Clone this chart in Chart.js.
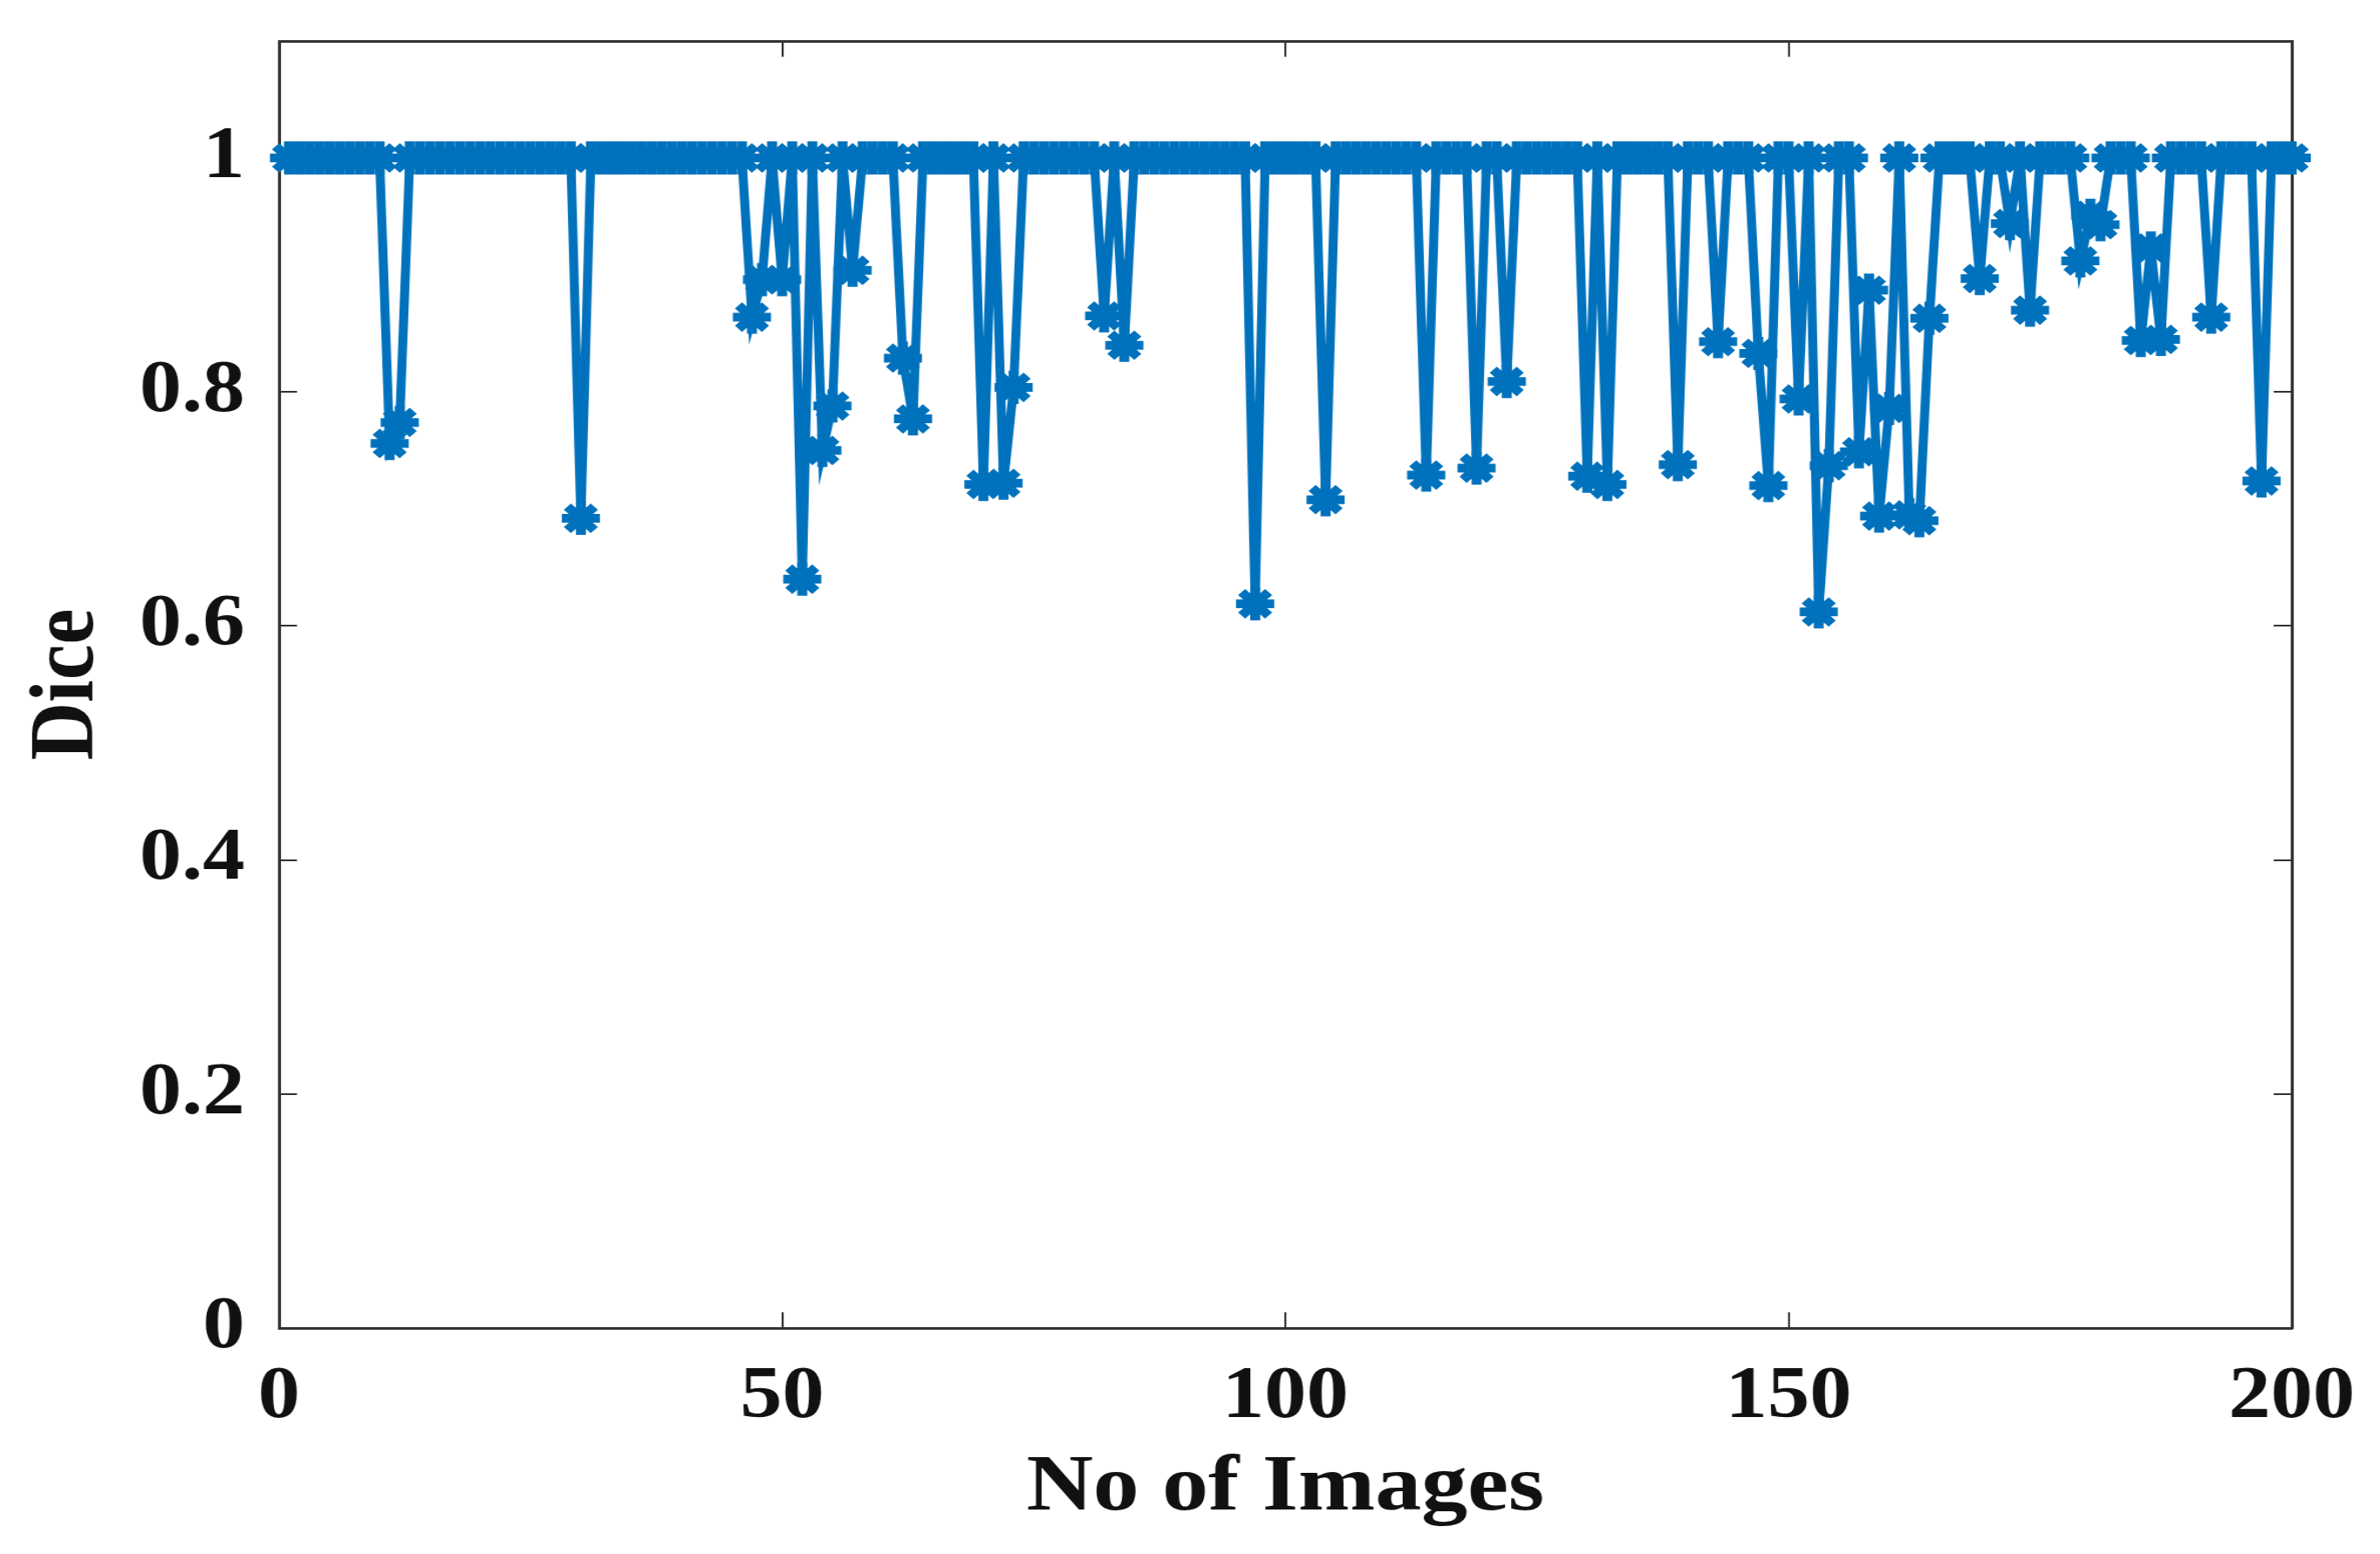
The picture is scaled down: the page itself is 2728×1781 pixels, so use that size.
<!DOCTYPE html>
<html>
<head>
<meta charset="utf-8">
<script src="https://cdn.jsdelivr.net/npm/chart.js@4.4.1/dist/chart.umd.min.js"></script>
<style>
html,body{margin:0;padding:0;background:#ffffff;overflow:hidden}
</style>
</head>
<body>
<canvas id="c" width="2372" height="1781" style="display:block;width:2728px;height:1781px"></canvas>
<script>
// ---- data ----
const imageNo = [
  1,2,3,4,5,6,7,8,9,10,11,12,13,14,15,16,17,18,19,20,
  21,22,23,24,25,26,27,28,29,30,31,32,33,34,35,36,37,38,39,40,
  41,42,43,44,45,46,47,48,49,50,51,52,53,54,55,56,57,58,59,60,
  61,62,63,64,65,66,67,68,69,70,71,72,73,74,75,76,77,78,79,80,
  81,82,83,84,85,86,87,88,89,90,91,92,93,94,95,96,97,98,99,100,
  101,102,103,104,105,106,107,108,109,110,111,112,113,114,115,116,117,118,119,120,
  121,122,123,124,125,126,127,128,129,130,131,132,133,134,135,136,137,138,139,140,
  141,142,143,144,145,146,147,148,149,150,151,152,153,154,155,156,157,158,159,160,
  161,162,163,164,165,166,167,168,169,170,171,172,173,174,175,176,177,178,179,180,
  181,182,183,184,185,186,187,188,189,190,191,192,193,194,195,196,197,198,199,200
];
const diceScore = [
  1,1,1,1,1,1,1,1,1,1, 0.756,0.774,1,1,1,1,1,1,1,1,
  1,1,1,1,1,1,1,1,1,0.692, 1,1,1,1,1,1,1,1,1,1,
  1,1,1,1,1,1,0.864,0.896,1,0.896, 1,0.640,1,0.750,0.788,1,0.904,1,1,1,
  1,0.829,0.777,1,1,1,1,1,1,0.721, 1,0.722,0.804,1,1,1,1,1,1,1,
  1,0.865,1,0.840,1,1,1,1,1,1, 1,1,1,1,1,1,0.619,1,1,1,
  1,1,1,0.708,1,1,1,1,1,1, 1,1,1,0.729,1,1,1,1,0.735,1,
  1,0.809,1,1,1,1,1,1,1,0.728, 1,0.721,1,1,1,1,1,1,0.738,1,
  1,1,0.843,1,1,1,0.833,0.720,1,1, 0.794,1,0.612,0.737,1,1,0.749,0.887,0.694,0.786,
  1,0.695,0.690,0.863,1,1,1,1,0.897,1, 1,0.944,1,0.870,1,1,1,1,0.912,0.951,
  0.943,1,1,1,0.844,0.923,0.845,1,1,1, 1,0.864,1,1,1,1,0.724,1,1,1
];
const xTickValues = [0, 50, 100, 150, 200];
const xTickLabels = ['0', '50', '100', '150', '200'];
const yTickValues = [0, 0.2, 0.4, 0.6, 0.8, 1];
const yTickLabels = ['0', '0.2', '0.4', '0.6', '0.8', '1'];
const xAxisTitle = 'No of Images';
const yAxisTitle = 'Dice';

// ---- styling ----
const LINE_BLUE = '#0072BD';
const AXIS_COLOR = '#333333';
const TEXT_COLOR = '#111111';
const FONT_FAMILY = '"Liberation Serif", "Times New Roman", serif';
const CANVAS_H = 1781;

const gridOpts = {
  display: true,
  drawOnChartArea: false,
  drawTicks: true,
  tickLength: -18,
  color: AXIS_COLOR,
  lineWidth: 2
};
const borderOpts = { display: true, color: AXIS_COLOR, width: 3 };

function setTicks(values) {
  return function (scale) { scale.ticks = values.map(v => ({ value: v })); };
}
function fixSize(prop, size) {
  return function (scale) {
    scale[prop] = size;
    scale.paddingLeft = 0; scale.paddingRight = 0;
    scale.paddingTop = 0; scale.paddingBottom = 0;
  };
}

new Chart(document.getElementById('c'), {
  type: 'line',
  data: {
    labels: imageNo,
    datasets: [{
      data: diceScore,
      borderColor: LINE_BLUE,
      backgroundColor: LINE_BLUE,
      borderWidth: 9,
      tension: 0,
      pointStyle: 'star',
      pointRadius: 19,
      pointBorderWidth: 10,
      pointBorderColor: LINE_BLUE,
      pointBackgroundColor: LINE_BLUE,
      clip: false
    }]
  },
  options: {
    responsive: false,
    animation: false,
    devicePixelRatio: 1,
    events: [],
    layout: { padding: 0, autoPadding: false },
    plugins: { legend: { display: false }, tooltip: { enabled: false }, title: { display: false } },
    scales: {
      x: {
        type: 'linear', position: 'bottom', min: 0, max: 200,
        afterBuildTicks: setTicks(xTickValues),
        afterFit: fixSize('height', CANVAS_H - 1522),
        grid: gridOpts, border: borderOpts,
        ticks: {
          autoSkip: false, maxRotation: 0, minRotation: 0, padding: 48,
          color: TEXT_COLOR, font: { family: FONT_FAMILY, size: 84, weight: 'bold' },
          callback: (v, i) => xTickLabels[i]
        },
        title: {
          display: true, text: xAxisTitle, color: TEXT_COLOR,
          font: { family: FONT_FAMILY, size: 92, weight: 'bold' },
          padding: { top: 0, bottom: 20 }
        }
      },
      x2: {
        type: 'linear', axis: 'x', position: 'top', min: 0, max: 200,
        afterBuildTicks: setTicks(xTickValues),
        afterFit: fixSize('height', 47),
        grid: gridOpts, border: borderOpts,
        ticks: { display: false }
      },
      y: {
        type: 'linear', position: 'left', min: 0, max: 1.1,
        afterBuildTicks: setTicks(yTickValues),
        afterFit: fixSize('width', 278),
        grid: gridOpts, border: borderOpts,
        ticks: {
          padding: 52, color: TEXT_COLOR,
          font: { family: FONT_FAMILY, size: 84, weight: 'bold' },
          callback: (v, i) => yTickLabels[i]
        },
        title: {
          display: true, text: yAxisTitle, color: TEXT_COLOR,
          font: { family: FONT_FAMILY, size: 92, weight: 'bold' },
          padding: { top: 13, bottom: 0 }
        }
      },
      y2: {
        type: 'linear', axis: 'y', position: 'right', min: 0, max: 1.1,
        afterBuildTicks: setTicks(yTickValues),
        afterFit: fixSize('width', 88),
        grid: gridOpts, border: borderOpts,
        ticks: { display: false }
      }
    }
  }
});
</script>
</body>
</html>
